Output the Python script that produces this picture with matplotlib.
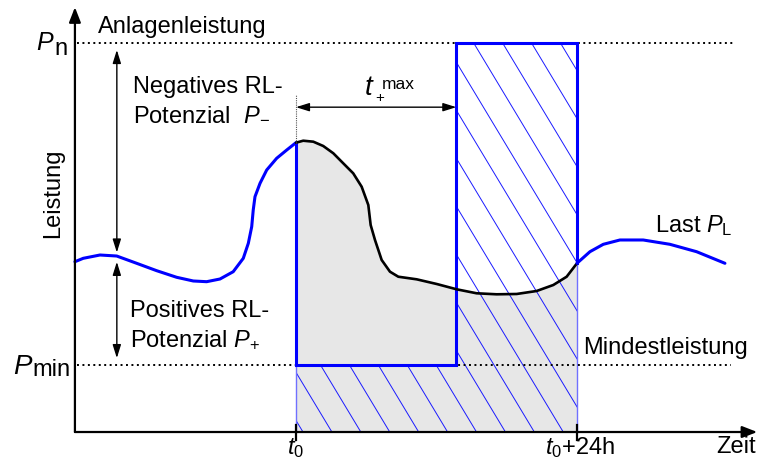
import numpy as np
import matplotlib
matplotlib.use("Agg")
import matplotlib.pyplot as plt
from matplotlib.patches import FancyArrowPatch, Polygon

plt.rcParams["font.family"] = ["Liberation Sans", "DejaVu Sans"]
plt.rcParams["mathtext.fontset"] = "custom"
plt.rcParams["mathtext.rm"] = "Liberation Sans"
plt.rcParams["mathtext.it"] = "Liberation Sans:italic"

# Time in hours relative to t0, power in % of rated power P_n
t_start, t_end = 0.0, 24.0
t_switch = 13.7          # end of the t+max window
P_n = 100.0
P_min = 17.2

# Load curve before t0 (blue)
pre_t = [-18.88, -18.17, -16.74, -15.31, -13.61, -11.90, -10.19, -8.77, -7.63, -6.49,
         -5.36, -4.50, -4.07, -3.78, -3.65, -3.50, -3.07, -2.50, -1.65, -0.79, 0.0]
pre_p = [43.78, 44.65, 45.50, 45.24, 43.37, 41.47, 39.77, 38.82, 38.64, 39.33,
         41.21, 44.65, 48.51, 52.78, 57.07, 60.49, 63.93, 67.35, 70.36, 72.49, 74.37]
# Load curve within the day t0 .. t0+24h (black)
day_t = [0.0, 0.62, 1.48, 2.33, 3.19, 4.04, 4.89, 5.61, 6.18, 6.38, 6.75, 7.32, 8.03,
         8.74, 10.31, 12.02, 13.73, 15.43, 17.14, 18.85, 20.56, 21.98, 23.12, 24.0]
day_p = [74.37, 74.88, 74.63, 73.52, 71.65, 69.07, 66.50, 63.06, 58.35, 53.21, 49.36,
         44.22, 41.21, 39.92, 39.25, 38.05, 36.68, 35.66, 35.40, 35.48, 36.25, 37.79,
         39.92, 43.37]
# Load curve after t0+24h (blue)
post_t = [24.0, 25.11, 26.25, 27.67, 29.66, 31.94, 34.22, 36.64]
post_p = [43.37, 46.35, 48.25, 49.36, 49.36, 48.25, 46.35, 43.37]

BLUE = "#0000ff"
GRAY = "#e7e7e7"

fig = plt.figure(figsize=(7.59, 4.65), dpi=100)
ax = fig.add_axes([0, 0, 1, 1])
ax.set_xlim(-25.28, 39.55)
ax.set_ylim(-8.48, 111.05)
ax.axis("off")

# grey area under the load within the day
ax.fill_between(day_t, day_p, 0, color=GRAY, lw=0, zorder=1)

# hatched operating band
band = [(t_start, 0), (t_start, P_min), (t_switch, P_min), (t_switch, P_n),
        (t_end, P_n), (t_end, 0)]
clip = Polygon(band, closed=True, facecolor="none", edgecolor="none")
ax.add_patch(clip)
slope = -5.0     # % per hour
step = 2.47
for k in range(-40, 20):
    t0 = 0.6 + k * step
    xs = np.array([t0 - 30, t0 + 30])
    ys = slope * (xs - t0)
    ln, = ax.plot(xs, ys, color="#1a1aff", lw=0.7, zorder=2)
    ln.set_clip_path(clip)

# thin lower edges of the band
ax.plot([t_start, t_start], [0, P_min], color="#7070ff", lw=1.0, zorder=3)
ax.plot([t_end, t_end], [0, day_p[-1]], color="#7070ff", lw=1.0, zorder=3)

# thick outline of the band
ax.plot([t_start, t_start, t_switch, t_switch, t_end, t_end],
        [day_p[0], P_min, P_min, P_n, P_n, day_p[-1]],
        color=BLUE, lw=2.2, zorder=5, solid_joinstyle="miter")

# dotted reference levels
ax.plot([-18.7, 37.5], [P_n, P_n], color="black", lw=1.4,
        linestyle=(0, (1, 1.8)), zorder=4)
ax.plot([-18.7, 37.2], [P_min, P_min], color="black", lw=1.4,
        linestyle=(0, (1, 1.8)), zorder=4)

# load curve
kw = dict(zorder=6, solid_capstyle="round", solid_joinstyle="round")
ax.plot(pre_t, pre_p, color=BLUE, lw=2.2, **kw)
ax.plot(day_t, day_p, color="black", lw=1.9, **kw)
ax.plot(post_t, post_p, color=BLUE, lw=2.2, **kw)

# axes with arrowheads
x_axis = -18.88
head = "-|>,head_length=0.9,head_width=0.35"
ax.add_patch(FancyArrowPatch((x_axis, 0), (x_axis, 109.2), arrowstyle=head,
                             mutation_scale=10, color="black", lw=1.6, shrinkA=0, shrinkB=0, zorder=7))
ax.add_patch(FancyArrowPatch((x_axis, 0), (39.4, 0), arrowstyle=head,
                             mutation_scale=10, color="black", lw=1.6, shrinkA=0, shrinkB=0, zorder=7))
for tt in (t_start, t_end):
    ax.plot([tt, tt], [-2.0, 1.8], color="black", lw=1.6, zorder=7)

# double arrows for the reserve potentials
arrow_t = -15.3
arrow_curve = 45.24
dbl = "<|-|>,head_length=0.8,head_width=0.25"
ax.add_patch(FancyArrowPatch((arrow_t, 98.2), (arrow_t, arrow_curve + 0.9), arrowstyle=dbl,
                             mutation_scale=10, color="black", lw=1.0, shrinkA=0, shrinkB=0, zorder=7))
ax.add_patch(FancyArrowPatch((arrow_t, arrow_curve - 1.5), (arrow_t, P_min + 1.8), arrowstyle=dbl,
                             mutation_scale=10, color="black", lw=1.0, shrinkA=0, shrinkB=0, zorder=7))
# t+max arrow
ax.add_patch(FancyArrowPatch((t_start, 83.5), (t_switch, 83.5), arrowstyle=dbl,
                             mutation_scale=10, color="black", lw=1.0, shrinkA=0, shrinkB=0, zorder=7))
ax.plot([t_start, t_start], [day_p[0], 86.6], color="#555555", lw=0.8,
        linestyle=(0, (1, 1)), zorder=6)

fs = 17
# labels
ax.text(-16.94, 102.5, "Anlagenleistung", fontsize=fs, ha="left", va="baseline")
ax.text(-22.2, 98.2, "P", fontsize=fs + 1, style="italic", ha="left", va="baseline")
ax.text(-20.6, 96.9, "n", fontsize=fs, ha="left", va="baseline")
ax.text(-24.17, 14.9, "P", fontsize=fs + 3, style="italic", ha="left", va="baseline")
ax.text(-22.55, 14.4, "min", fontsize=fs, ha="left", va="baseline")
ax.text(-20.7, 61.4, "Leistung", fontsize=fs, rotation=90, ha="center", va="center")

ax.text(-13.95, 87.1, "Negatives RL-", fontsize=fs, ha="left", va="baseline")
ax.text(-13.95, 80.2, r"Potenzial  $P_{\!-}$", fontsize=fs, ha="left", va="baseline")
ax.text(-14.17, 29.6, "Positives RL-", fontsize=fs, ha="left", va="baseline")
ax.text(-14.17, 22.1, r"Potenzial $P_{\!+}$", fontsize=fs, ha="left", va="baseline")

ax.text(5.9, 86.6, "t", fontsize=fs + 3, style="italic", ha="left", va="baseline")
ax.text(6.75, 84.9, "+", fontsize=11, ha="left", va="baseline")
ax.text(7.35, 88.2, "max", fontsize=12.5, ha="left", va="baseline")

ax.text(24.5, 20.05, "Mindestleistung", fontsize=fs, ha="left", va="baseline")
ax.text(30.65, 51.5, r"Last $P_{\mathrm{L}}$", fontsize=fs, ha="left", va="baseline")

ax.text(t_start, -5.66, r"$t_0$", fontsize=fs, ha="center", va="baseline")
ax.text(t_end + 0.3, -5.66, r"$t_0$+24h", fontsize=fs, ha="center", va="baseline")
ax.text(37.6, -5.4, "Zeit", fontsize=fs, ha="center", va="baseline")

fig.savefig("out.png", dpi=100)
